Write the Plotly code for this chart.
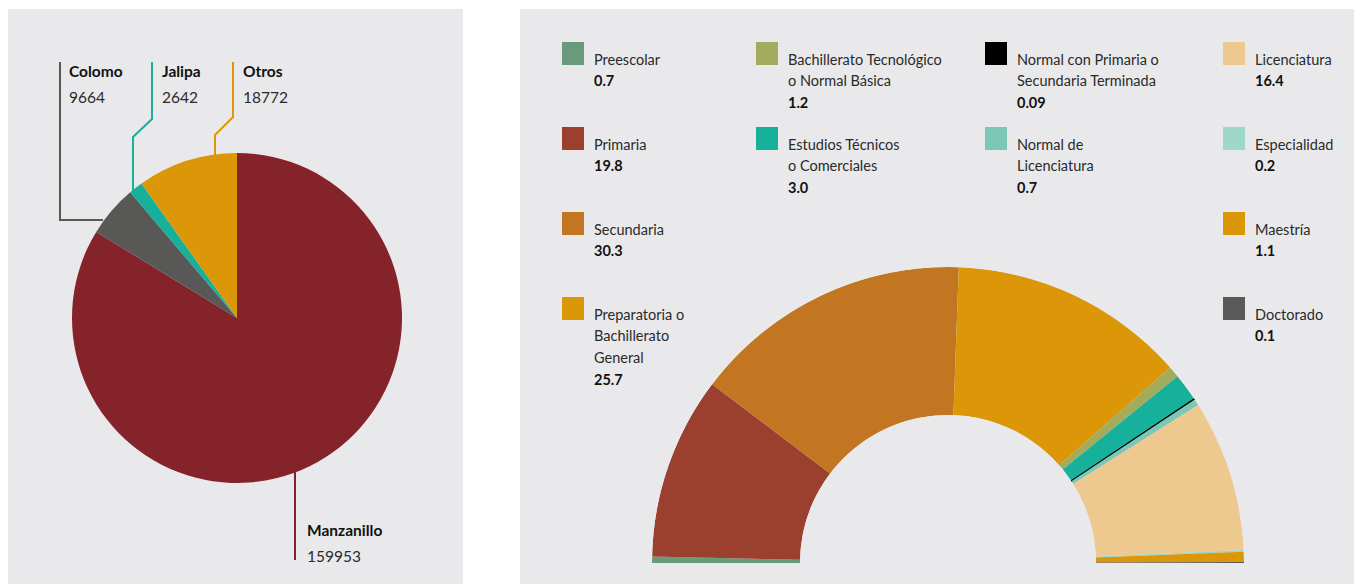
import numpy as np
import plotly.graph_objects as go

W, H = 1362, 585
OFF = 8  # page body margin of the html page

# ---------------- data ----------------
muni_names = ["Manzanillo", "Colomo", "Jalipa", "Otros"]
muni_values = [159953, 9664, 2642, 18772]
muni_colors = ["#85232a", "#585856", "#17b09a", "#db9708"]

edu_levels = [
    "Preescolar", "Primaria", "Secundaria", "Preparatoria o<br>Bachillerato<br>General",
    "Bachillerato Tecnológico<br>o Normal Básica", "Estudios Técnicos<br>o Comerciales",
    "Normal con Primaria o<br>Secundaria Terminada", "Normal de<br>Licenciatura",
    "Licenciatura", "Especialidad", "Maestría", "Doctorado",
]
edu_pct = [0.7, 19.8, 30.3, 25.7, 1.2, 3.0, 0.09, 0.7, 16.4, 0.2, 1.1, 0.1]
edu_colors = ["#6a9a7c", "#9b3f2e", "#c27621", "#db9708", "#a3ab5c", "#17b09a",
              "#000000", "#7cc7b5", "#eec98f", "#9fd8ca", "#db9708", "#5a5a58"]

FONT = "Lato"
TXT = "#2a2a2a"


def px(x):
    return (x - OFF) / W


def py(y):
    return 1 - (y - OFF) / H


fig = go.Figure()

# ---------------- left pie ----------------
cx, cy, R = 237, 318, 165
fig.add_trace(go.Pie(
    labels=muni_names, values=muni_values, sort=False, direction="clockwise",
    rotation=0, textinfo="none", hoverinfo="label+value",
    marker=dict(colors=muni_colors, line=dict(width=0)),
    domain=dict(x=[px(cx - R), px(cx + R)], y=[py(cy + R), py(cy - R)]),
    showlegend=False,
))

# ---------------- right half donut (barpolar) ----------------
vals = np.array(edu_pct)
tot = vals.sum()
widths = vals / tot * 180
centers = np.cumsum(widths) - widths / 2
line_w = [1.2 if c == "#000000" else 0 for c in edu_colors]
fig.add_trace(go.Barpolar(
    r=[1] * len(vals), theta=centers, width=widths,
    marker=dict(color=edu_colors, line=dict(color="#000000", width=line_w)),
    text=[l.replace("<br>", " ") for l in edu_levels],
    hovertemplate="%{text}<extra></extra>", showlegend=False,
))
dcx, dcy, dR = 948, 563, 296
fig.update_layout(polar=dict(
    domain=dict(x=[px(dcx - dR), px(dcx + dR)], y=[py(dcy), py(dcy - dR)]),
    sector=[0, 180], hole=0.5, bgcolor="rgba(0,0,0,0)",
    radialaxis=dict(visible=False, range=[0, 1]),
    angularaxis=dict(visible=False, rotation=180, direction="clockwise"),
    bargap=0,
))

shapes = []
annotations = []

# panels
shapes.append(dict(type="rect", xref="paper", yref="paper", x0=px(8), x1=px(463),
                   y0=py(584), y1=py(9), fillcolor="#e9e9eb", line=dict(width=0), layer="below"))
shapes.append(dict(type="rect", xref="paper", yref="paper", x0=px(520), x1=px(1375),
                   y0=py(584), y1=py(9), fillcolor="#e9e9eb", line=dict(width=0), layer="below"))


def path(points):
    return "M " + " L ".join(f"{px(x)},{py(y)}" for x, y in points)


# leader lines (left pie)
leaders = {
    "Colomo": [(60, 62), (60, 220), (103, 220)],
    "Jalipa": [(152, 62), (152, 119), (133, 137), (133, 193)],
    "Otros": [(233, 62), (233, 117), (215, 135), (215, 161)],
    "Manzanillo": [(295, 468), (295, 560)],
}
label_pos = {"Colomo": (67, 71), "Jalipa": (160, 71), "Otros": (241, 71), "Manzanillo": (305, 530)}
for name, val, col in zip(muni_names, muni_values, muni_colors):
    shapes.append(dict(type="path", xref="paper", yref="paper", path=path(leaders[name]),
                       line=dict(color=col, width=2)))
    lx, ly = label_pos[name]
    annotations.append(dict(x=px(lx), y=py(ly), xref="paper", yref="paper", text=f"<b>{name}</b>",
                            showarrow=False, xanchor="left", yanchor="middle",
                            font=dict(family=FONT, size=15.5, color="#111")))
    annotations.append(dict(x=px(lx), y=py(ly + 26), xref="paper", yref="paper", text=str(val),
                            showarrow=False, xanchor="left", yanchor="middle",
                            font=dict(family=FONT, size=15.5, color=TXT)))

# custom legend (right panel)
col_sq = [562, 756, 985, 1223]
row_sq = [42, 127, 212, 297]
legend_slots = [(0, 0), (0, 1), (0, 2), (0, 3), (1, 0), (1, 1), (2, 0), (2, 1),
                (3, 0), (3, 1), (3, 2), (3, 3)]
LH = 21.7
for lab, v, col, (ci, ri) in zip(edu_levels, edu_pct, edu_colors, legend_slots):
    sx, sy = col_sq[ci], row_sq[ri]
    shapes.append(dict(type="rect", xref="paper", yref="paper", x0=px(sx), x1=px(sx + 22),
                       y0=py(sy + 23), y1=py(sy), fillcolor=col, line=dict(width=0)))
    tx = sx + 30
    lines = lab.split("<br>")
    for k, ln in enumerate(lines):
        annotations.append(dict(x=px(tx), y=py(sy + 17 + k * LH), xref="paper", yref="paper",
                                text=ln, showarrow=False, xanchor="left", yanchor="middle",
                                font=dict(family=FONT, size=14.5, color=TXT)))
    annotations.append(dict(x=px(tx), y=py(sy + 17 + len(lines) * LH), xref="paper", yref="paper",
                            text=f"<b>{v}</b>", showarrow=False, xanchor="left", yanchor="middle",
                            font=dict(family=FONT, size=14.5, color="#111")))

fig.update_layout(
    width=W, height=H, margin=dict(l=0, r=0, t=0, b=0),
    paper_bgcolor="white", plot_bgcolor="white",
    shapes=shapes, annotations=annotations, showlegend=False,
)

fig.write_html("out.html")
